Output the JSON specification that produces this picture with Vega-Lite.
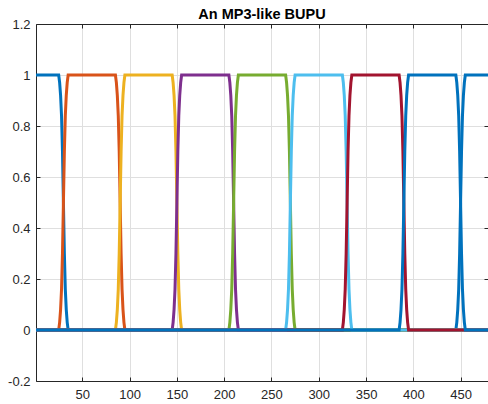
{
  "$schema": "https://vega.github.io/schema/vega-lite/v6.json",
  "autosize": {"type": "none"},
  "padding": {"left": 36, "top": 24, "right": 0, "bottom": 23},
  "width": 452,
  "height": 357,
  "background": "white",
  "title": {"text": "An MP3-like BUPU", "fontSize": 14.5, "fontWeight": "bold", "font": "Liberation Sans", "color": "#000000", "offset": -4, "anchor": "middle"},
  "config": {
    "view": {"stroke": null},
    "axis": {"labelFont": "Liberation Sans", "labelFontSize": 13, "labelColor": "#262626", "domainColor": "#262626", "tickColor": "#262626", "gridColor": "#dfdfdf", "gridWidth": 1, "domainWidth": 1}
  },
  "data": {"values": [
    {"s":"s1","x":1,"y":1},{"s":"s1","x":25,"y":1},{"s":"s1","x":26,"y":0.97},{"s":"s1","x":27,"y":0.92},{"s":"s1","x":28,"y":0.84},{"s":"s1","x":29,"y":0.7},{"s":"s1","x":30,"y":0.5},{"s":"s1","x":31,"y":0.3},{"s":"s1","x":32,"y":0.16},{"s":"s1","x":33,"y":0.08},{"s":"s1","x":34,"y":0.03},{"s":"s1","x":35,"y":0},
    {"s":"s1","x":445,"y":0},{"s":"s1","x":446,"y":0.03},{"s":"s1","x":447,"y":0.08},{"s":"s1","x":448,"y":0.16},{"s":"s1","x":449,"y":0.3},{"s":"s1","x":450,"y":0.5},{"s":"s1","x":451,"y":0.7},{"s":"s1","x":452,"y":0.84},{"s":"s1","x":453,"y":0.92},{"s":"s1","x":454,"y":0.97},{"s":"s1","x":455,"y":1},{"s":"s1","x":480,"y":1},

    {"s":"s2","x":1,"y":0},{"s":"s2","x":25,"y":0},{"s":"s2","x":26,"y":0.03},{"s":"s2","x":27,"y":0.08},{"s":"s2","x":28,"y":0.16},{"s":"s2","x":29,"y":0.3},{"s":"s2","x":30,"y":0.5},{"s":"s2","x":31,"y":0.7},{"s":"s2","x":32,"y":0.84},{"s":"s2","x":33,"y":0.92},{"s":"s2","x":34,"y":0.97},{"s":"s2","x":35,"y":1},
    {"s":"s2","x":85,"y":1},{"s":"s2","x":86,"y":0.97},{"s":"s2","x":87,"y":0.92},{"s":"s2","x":88,"y":0.84},{"s":"s2","x":89,"y":0.7},{"s":"s2","x":90,"y":0.5},{"s":"s2","x":91,"y":0.3},{"s":"s2","x":92,"y":0.16},{"s":"s2","x":93,"y":0.08},{"s":"s2","x":94,"y":0.03},{"s":"s2","x":95,"y":0},{"s":"s2","x":480,"y":0},

    {"s":"s3","x":1,"y":0},{"s":"s3","x":85,"y":0},{"s":"s3","x":86,"y":0.03},{"s":"s3","x":87,"y":0.08},{"s":"s3","x":88,"y":0.16},{"s":"s3","x":89,"y":0.3},{"s":"s3","x":90,"y":0.5},{"s":"s3","x":91,"y":0.7},{"s":"s3","x":92,"y":0.84},{"s":"s3","x":93,"y":0.92},{"s":"s3","x":94,"y":0.97},{"s":"s3","x":95,"y":1},
    {"s":"s3","x":145,"y":1},{"s":"s3","x":146,"y":0.97},{"s":"s3","x":147,"y":0.92},{"s":"s3","x":148,"y":0.84},{"s":"s3","x":149,"y":0.7},{"s":"s3","x":150,"y":0.5},{"s":"s3","x":151,"y":0.3},{"s":"s3","x":152,"y":0.16},{"s":"s3","x":153,"y":0.08},{"s":"s3","x":154,"y":0.03},{"s":"s3","x":155,"y":0},{"s":"s3","x":480,"y":0},

    {"s":"s4","x":1,"y":0},{"s":"s4","x":145,"y":0},{"s":"s4","x":146,"y":0.03},{"s":"s4","x":147,"y":0.08},{"s":"s4","x":148,"y":0.16},{"s":"s4","x":149,"y":0.3},{"s":"s4","x":150,"y":0.5},{"s":"s4","x":151,"y":0.7},{"s":"s4","x":152,"y":0.84},{"s":"s4","x":153,"y":0.92},{"s":"s4","x":154,"y":0.97},{"s":"s4","x":155,"y":1},
    {"s":"s4","x":205,"y":1},{"s":"s4","x":206,"y":0.97},{"s":"s4","x":207,"y":0.92},{"s":"s4","x":208,"y":0.84},{"s":"s4","x":209,"y":0.7},{"s":"s4","x":210,"y":0.5},{"s":"s4","x":211,"y":0.3},{"s":"s4","x":212,"y":0.16},{"s":"s4","x":213,"y":0.08},{"s":"s4","x":214,"y":0.03},{"s":"s4","x":215,"y":0},{"s":"s4","x":480,"y":0},

    {"s":"s5","x":1,"y":0},{"s":"s5","x":205,"y":0},{"s":"s5","x":206,"y":0.03},{"s":"s5","x":207,"y":0.08},{"s":"s5","x":208,"y":0.16},{"s":"s5","x":209,"y":0.3},{"s":"s5","x":210,"y":0.5},{"s":"s5","x":211,"y":0.7},{"s":"s5","x":212,"y":0.84},{"s":"s5","x":213,"y":0.92},{"s":"s5","x":214,"y":0.97},{"s":"s5","x":215,"y":1},
    {"s":"s5","x":265,"y":1},{"s":"s5","x":266,"y":0.97},{"s":"s5","x":267,"y":0.92},{"s":"s5","x":268,"y":0.84},{"s":"s5","x":269,"y":0.7},{"s":"s5","x":270,"y":0.5},{"s":"s5","x":271,"y":0.3},{"s":"s5","x":272,"y":0.16},{"s":"s5","x":273,"y":0.08},{"s":"s5","x":274,"y":0.03},{"s":"s5","x":275,"y":0},{"s":"s5","x":480,"y":0},

    {"s":"s6","x":1,"y":0},{"s":"s6","x":265,"y":0},{"s":"s6","x":266,"y":0.03},{"s":"s6","x":267,"y":0.08},{"s":"s6","x":268,"y":0.16},{"s":"s6","x":269,"y":0.3},{"s":"s6","x":270,"y":0.5},{"s":"s6","x":271,"y":0.7},{"s":"s6","x":272,"y":0.84},{"s":"s6","x":273,"y":0.92},{"s":"s6","x":274,"y":0.97},{"s":"s6","x":275,"y":1},
    {"s":"s6","x":325,"y":1},{"s":"s6","x":326,"y":0.97},{"s":"s6","x":327,"y":0.92},{"s":"s6","x":328,"y":0.84},{"s":"s6","x":329,"y":0.7},{"s":"s6","x":330,"y":0.5},{"s":"s6","x":331,"y":0.3},{"s":"s6","x":332,"y":0.16},{"s":"s6","x":333,"y":0.08},{"s":"s6","x":334,"y":0.03},{"s":"s6","x":335,"y":0},{"s":"s6","x":480,"y":0},

    {"s":"s7","x":1,"y":0},{"s":"s7","x":325,"y":0},{"s":"s7","x":326,"y":0.03},{"s":"s7","x":327,"y":0.08},{"s":"s7","x":328,"y":0.16},{"s":"s7","x":329,"y":0.3},{"s":"s7","x":330,"y":0.5},{"s":"s7","x":331,"y":0.7},{"s":"s7","x":332,"y":0.84},{"s":"s7","x":333,"y":0.92},{"s":"s7","x":334,"y":0.97},{"s":"s7","x":335,"y":1},
    {"s":"s7","x":385,"y":1},{"s":"s7","x":386,"y":0.97},{"s":"s7","x":387,"y":0.92},{"s":"s7","x":388,"y":0.84},{"s":"s7","x":389,"y":0.7},{"s":"s7","x":390,"y":0.5},{"s":"s7","x":391,"y":0.3},{"s":"s7","x":392,"y":0.16},{"s":"s7","x":393,"y":0.08},{"s":"s7","x":394,"y":0.03},{"s":"s7","x":395,"y":0},{"s":"s7","x":480,"y":0},

    {"s":"s8","x":1,"y":0},{"s":"s8","x":385,"y":0},{"s":"s8","x":386,"y":0.03},{"s":"s8","x":387,"y":0.08},{"s":"s8","x":388,"y":0.16},{"s":"s8","x":389,"y":0.3},{"s":"s8","x":390,"y":0.5},{"s":"s8","x":391,"y":0.7},{"s":"s8","x":392,"y":0.84},{"s":"s8","x":393,"y":0.92},{"s":"s8","x":394,"y":0.97},{"s":"s8","x":395,"y":1},
    {"s":"s8","x":445,"y":1},{"s":"s8","x":446,"y":0.97},{"s":"s8","x":447,"y":0.92},{"s":"s8","x":448,"y":0.84},{"s":"s8","x":449,"y":0.7},{"s":"s8","x":450,"y":0.5},{"s":"s8","x":451,"y":0.3},{"s":"s8","x":452,"y":0.16},{"s":"s8","x":453,"y":0.08},{"s":"s8","x":454,"y":0.03},{"s":"s8","x":455,"y":0},{"s":"s8","x":480,"y":0}
  ]},
  "layer": [
    {
      "mark": {"type": "line", "opacity": 0, "clip": true},
      "encoding": {
        "x": {"field": "x", "type": "quantitative", "scale": {"domain": [1, 479], "nice": false, "zero": false},
              "axis": {"orient": "top", "title": null, "labels": false, "grid": false, "tickSize": -4, "values": [50,100,150,200,250,300,350,400,450]}},
        "y": {"field": "y", "type": "quantitative", "scale": {"domain": [-0.2, 1.2], "nice": false, "zero": false},
              "axis": {"orient": "right", "title": null, "labels": false, "grid": false, "tickSize": -4, "values": [-0.2,0,0.2,0.4,0.6,0.8,1,1.2]}},
        "detail": {"field": "s"}
      }
    },
    {
      "mark": {"type": "line", "strokeWidth": 3, "clip": true},
      "encoding": {
        "x": {"field": "x", "type": "quantitative", "scale": {"domain": [1, 479], "nice": false, "zero": false},
              "axis": {"orient": "bottom", "title": null, "grid": true, "tickSize": -4, "labelPadding": 11, "values": [50,100,150,200,250,300,350,400,450]}},
        "y": {"field": "y", "type": "quantitative", "scale": {"domain": [-0.2, 1.2], "nice": false, "zero": false},
              "axis": {"orient": "left", "title": null, "grid": true, "tickSize": -4, "labelPadding": 10, "values": [-0.2,0,0.2,0.4,0.6,0.8,1,1.2],
                       "labelExpr": "datum.value < 0 ? '-' + format(-datum.value, '~g') : format(datum.value, '~g')"}},
        "color": {"field": "s", "type": "nominal", "legend": null,
                  "scale": {"domain": ["s1","s2","s3","s4","s5","s6","s7","s8"],
                            "range": ["#0072BD","#D95319","#EDB120","#7E2F8E","#77AC30","#4DBEEE","#A2142F","#0072BD"]}}
      }
    }
  ],
  "resolve": {"axis": {"x": "independent", "y": "independent"}}
}
